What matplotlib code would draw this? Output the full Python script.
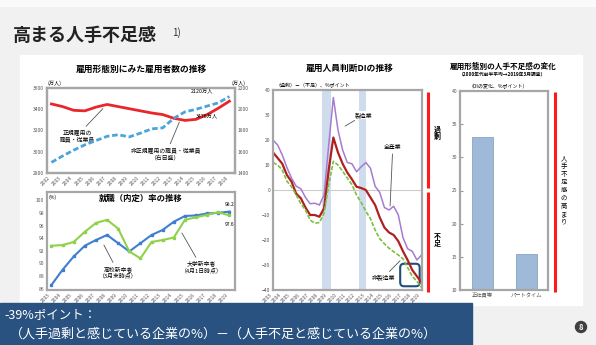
import numpy as np
import matplotlib.pyplot as plt
from matplotlib.patches import Rectangle, FancyBboxPatch, Circle

plt.rcParams['font.family'] = ['Noto Sans CJK JP', 'DejaVu Sans']

W, H = 596, 345

# employees by type (万人)
emp_years = list(range(2002, 2019))
regular = [3450, 3425, 3390, 3385, 3420, 3445, 3425, 3405, 3385, 3365,
           3350, 3315, 3295, 3305, 3350, 3410, 3476]
non_regular = [1500, 1560, 1615, 1665, 1705, 1745, 1760, 1740, 1775, 1815,
               1825, 1915, 1975, 2000, 2030, 2060, 2120]

# job placement rates (%)
job_years = list(range(2003, 2020))
highschool = [86.6, 89.0, 91.1, 92.8, 93.7, 94.5, 93.2, 91.9, 93.2, 94.5,
              95.3, 96.6, 97.5, 97.6, 97.9, 98.0, 98.2]
university = [92.8, 92.9, 93.4, 95.0, 96.4, 96.9, 95.5, 91.9, 90.8, 93.4,
              93.7, 94.1, 96.9, 97.3, 97.7, 98.1, 97.6]

# employment conditions DI, half-yearly 2003-2019
di_time = np.arange(2003, 2019.01, 0.5)
di_mfg = [20, 18, 14, 9, 4.7, 1.5, 0.5, -3, -5.5, -5.3, -6, -2, 18, 37, 24, 16,
          11, 10.5, 7.3, 9.3, 11, 8.7, 1.5, -1, -7, -8, -6.5, -10, -19, -23.5,
          -24.5, -28, -26]
di_all = [15, 12.8, 10.5, 6, 3.3, -1.5, -3.3, -7, -10, -10, -10.7, -7.3, 8, 21,
          15, 10.5, 7, 4.3, 1.3, 0.8, 0, -3, -6, -11, -15, -17, -18, -20.5,
          -24.5, -28, -32, -34.5, -37]
di_nonmfg = [11, 10, 8, 3.5, 1.3, -2, -5.5, -8, -12, -13.3, -13, -9.3, 2, 11.5,
             10, 7.5, 4.8, 2.2, -2, -5, -8.5, -11.5, -16, -19.5, -21.5, -23.3,
             -24.7, -26, -27.5, -31, -34.5, -36.5, -39]
recessions = [(2008.25, 2009.25), (2012.25, 2013.0)]

# change in labour shortage by employment type
bar_labels = ['正社員等', 'パートタイム']
bar_values = [33, 15.5]


def rect(x0, y0, x1, y1):
    return [x0 / W, 1 - y1 / H, (x1 - x0) / W, (y1 - y0) / H]


def frame(ax):
    for s in ax.spines.values():
        s.set_color('#a6a6a6')
        s.set_linewidth(1.6)
    ax.tick_params(labelsize=3.6, length=0, pad=2, colors='#555555')


fig = plt.figure(figsize=(W / 100, H / 100), dpi=100)

# slide background
bg = fig.add_axes([0, 0, 1, 1], zorder=-1)
bg.set_xlim(0, W)
bg.set_ylim(H, 0)
bg.axis('off')
bg.add_patch(Rectangle((0, 0), W, H, color='#f1f1f1'))
bg.add_patch(Rectangle((0, 0), W, 6, color='#fafafa'))
bg.add_patch(Rectangle((20, 55), 562, 250, color='white'))
bg.text(13, 35, '高まる人手不足感', fontsize=13, fontweight='bold', color='#222222', va='center')
bg.text(172, 33, '1)', fontsize=7, color='#333333', va='center')

# --- employees by type ---
ax1 = fig.add_axes(rect(47, 88, 235, 173))
frame(ax1)
ax1.plot(emp_years, regular, color='#e8262b', lw=2)
ax1.set_ylim(2800, 3600)
ax1.set_yticks([2800, 3000, 3200, 3400, 3600])
ax1.set_xlim(2001.6, 2018.5)
ax1.set_xticks(emp_years)
ax1.set_xticklabels([str(y) for y in emp_years], rotation=45, ha='right')
ax1b = ax1.twinx()
frame(ax1b)
ax1b.plot(emp_years, non_regular, color='#4aa3dc', lw=2, ls=(0, (2, 1)))
ax1b.set_ylim(1400, 2200)
ax1b.set_yticks([1400, 1600, 1800, 2000, 2200])
bg.text(141, 69, '雇用形態別にみた雇用者数の推移', fontsize=6.3, fontweight='bold', ha='center', va='center')
bg.text(47, 83, '(万人)', fontsize=3.8, ha='left', va='center')
bg.text(232, 83, '(万人)', fontsize=3.8, ha='left', va='center')
ax1b.text(2015.5, non_regular[-1] + 35, f'{non_regular[-1]}万人', fontsize=3.8, ha='center')
ax1.text(2016.0, regular[-1] - 150, f'{regular[-1]}万人', fontsize=3.8, ha='center')
lbl = dict(fontsize=4.2, ha='center', va='center',
           bbox=dict(boxstyle='square,pad=0.2', fc='white', ec='none'))
ax1.annotate('正規雇用の\n職員・従業員', xy=(2006.8, 3425), xytext=(2004.3, 3150),
             arrowprops=dict(arrowstyle='-', color='#555555', lw=0.6), **lbl)
ax1b.annotate('非正規雇用の職員・従業員\n（右目盛）', xy=(2013.6, 1905), xytext=(2012.3, 1580),
              arrowprops=dict(arrowstyle='-', color='#555555', lw=0.6), **lbl)

# --- job placement rates ---
ax2 = fig.add_axes(rect(47, 192, 235, 290))
frame(ax2)
ax2.plot(job_years, highschool, color='#3f7fd0', lw=1.5, marker='s', ms=1.6)
ax2.plot(job_years, university, color='#8ed24a', lw=1.5, marker='s', ms=1.6)
ax2.set_ylim(85.8, 101.3)
ax2.set_yticks([86, 88, 90, 92, 94, 96, 98, 100])
ax2.set_xlim(2002.6, 2019.5)
ax2.set_xticks(job_years)
ax2.set_xticklabels([str(y) for y in job_years], rotation=45, ha='right')
ax2.text(0.5, 0.985, '就職（内定）率の推移', transform=ax2.transAxes, fontsize=6,
         fontweight='bold', ha='center', va='top')
ax2.text(0.01, 0.97, '(%)', transform=ax2.transAxes, fontsize=3.6, va='top')
ax2.text(2019.0, highschool[-1] + 0.9, f'{highschool[-1]:.1f}', fontsize=3.6, ha='center')
ax2.text(2019.0, university[-1] - 1.6, f'{university[-1]:.1f}', fontsize=3.6, ha='center')
ax2.annotate('高校新卒者\n（3月末時点）', xy=(2007.6, 93.3), xytext=(2009.0, 88.6),
             arrowprops=dict(arrowstyle='-', color='#555555', lw=0.6), **lbl)
ax2.annotate('大学新卒者\n（4月1日時点）', xy=(2014.6, 95.2), xytext=(2016.5, 89.4),
             arrowprops=dict(arrowstyle='-', color='#555555', lw=0.6), **lbl)

# --- employment conditions DI ---
ax3 = fig.add_axes(rect(273, 90, 422, 290))
frame(ax3)
for a, b in recessions:
    ax3.axvspan(a, b, color='#cfdcee', lw=0)
ax3.axhline(0, color='#cccccc', lw=0.8)
ax3.plot(di_time, di_mfg, color='#a77bd0', lw=1.1)
ax3.plot(di_time, di_all, color='#b02020', lw=1.6)
ax3.plot(di_time, di_nonmfg, color='#7fbf3f', lw=1.2, ls=(0, (2.5, 1)))
ax3.set_xlim(2003, 2019.05)
ax3.set_ylim(-40, 40)
ax3.set_yticks(range(-40, 41, 10))
ax3.set_xticks(range(2003, 2020))
ax3.set_xticklabels([str(y) for y in range(2003, 2020)], rotation=45, ha='right')
ax3.text(0.02, 1.01, '（過剰）－（不足）、%ポイント', transform=ax3.transAxes,
         fontsize=3.6, va='bottom')
ax3.add_patch(FancyBboxPatch((2016.7, -38.5), 2.1, 9.0,
                             boxstyle='round,pad=0,rounding_size=0.4',
                             fc='none', ec='#1f4e79', lw=1.5, mutation_aspect=4))
ax3.annotate('製造業', xy=(2010.5, 25), xytext=(2012.8, 30),
             arrowprops=dict(arrowstyle='-', color='#555555', lw=0.6), **lbl)
ax3.annotate('全産業', xy=(2015.6, -7.5), xytext=(2015.9, 17),
             arrowprops=dict(arrowstyle='-', color='#555555', lw=0.6), **lbl)
ax3.annotate('非製造業', xy=(2016.9, -27.5), xytext=(2014.9, -35),
             arrowprops=dict(arrowstyle='-', color='#555555', lw=0.6), **lbl)
bg.text(350, 68, '雇用人員判断DIの推移', fontsize=6.3, fontweight='bold', ha='center', va='center')

# --- change in shortage by employment type ---
ax4 = fig.add_axes(rect(460, 91, 548, 290))
frame(ax4)
ax4.bar([0, 1], bar_values, width=0.48, color='#9fb9d9', edgecolor='#8aa4c4', lw=0.6)
ax4.set_xlim(-0.51, 1.49)
ax4.set_ylim(10, 40)
ax4.set_yticks(range(10, 41, 5))
ax4.set_xticks([0, 1])
ax4.set_xticklabels(bar_labels)
ax4.tick_params(axis='y', direction='in', length=2, color='#999999')
ax4.tick_params(axis='x', labelsize=3.8)
ax4.text(0.1, 1.01, '（DIの変化、%ポイント）', transform=ax4.transAxes, fontsize=3.6, va='bottom')
bg.text(503, 66, '雇用形態別の人手不足感の変化', fontsize=5.5, fontweight='bold', ha='center', va='center')
bg.text(503, 74, '（2000年代前半平均→2019年3月調査）', fontsize=3.4, fontweight='bold', ha='center', va='center')

# overlay: red scale bars, note box, page number
ov = fig.add_axes([0, 0, 1, 1], zorder=5)
ov.set_xlim(0, W)
ov.set_ylim(H, 0)
ov.axis('off')
ov.plot([428, 428], [92, 188], color='#ff1a1a', lw=2.2, solid_capstyle='butt')
ov.plot([428, 428], [192, 292], color='#ff1a1a', lw=2.2, solid_capstyle='butt')
ov.plot([555, 555], [92, 292], color='#ff1a1a', lw=2.2, solid_capstyle='butt')
ov.text(437, 133, '過\n剰', fontsize=5, fontweight='bold', ha='center', va='center', linespacing=1.0)
ov.text(437, 240, '不\n足', fontsize=5, fontweight='bold', ha='center', va='center', linespacing=1.0)
ov.text(564, 190, '\n'.join('人手不足感の高まり'), fontsize=4.6, ha='center', va='center', linespacing=1.0)

ov.add_patch(Rectangle((0, 303), 472, 42, color='#2a5280'))
ov.text(4, 315, '-39%ポイント：', fontsize=9, color='white', va='center')
ov.text(10, 334, '（人手過剰と感じている企業の%）－（人手不足と感じている企業の%）',
        fontsize=9.4, color='white', va='center')
ov.add_patch(Circle((581, 327), 5.5, color='#404040'))
ov.text(581, 327.5, '8', fontsize=5.5, color='white', fontweight='bold', ha='center', va='center')

fig.savefig('out.png', dpi=100)
